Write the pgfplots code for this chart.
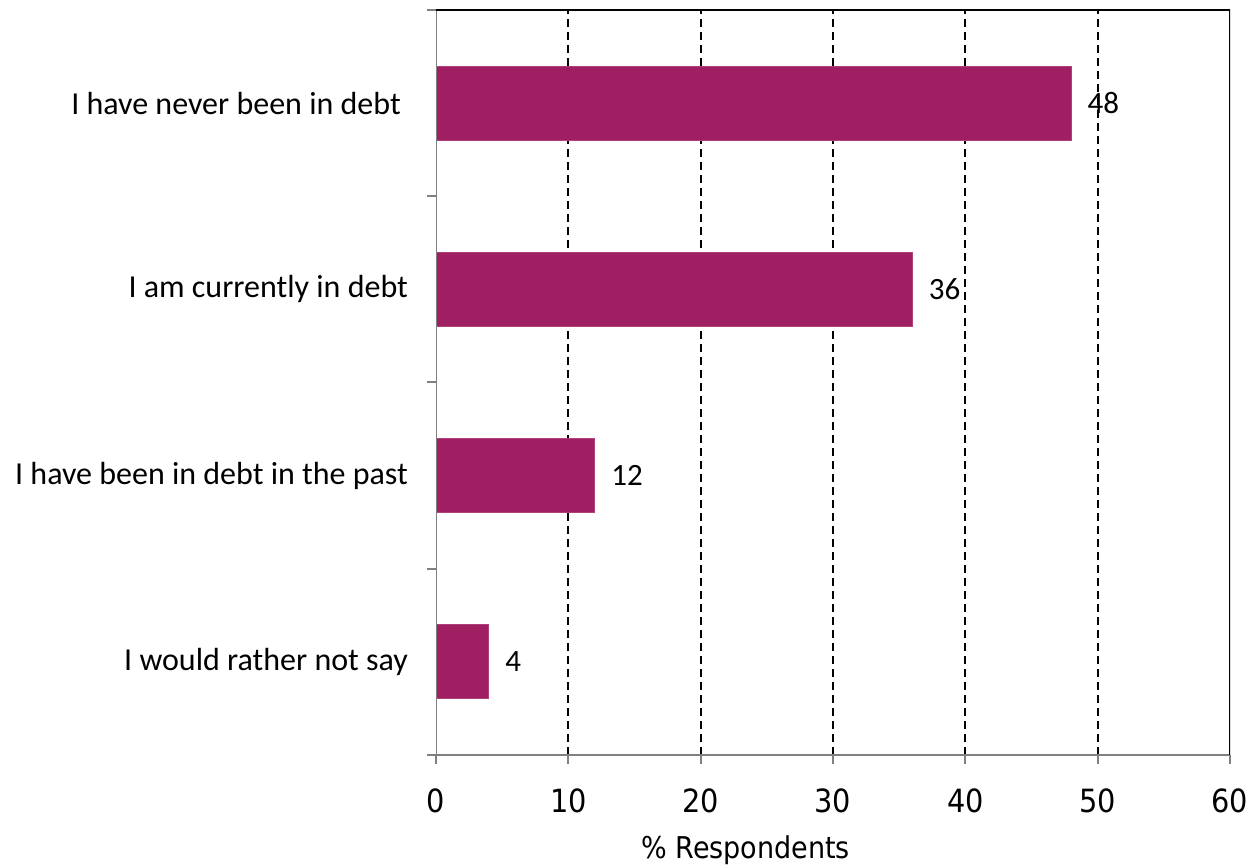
\documentclass[border=0pt]{standalone}
\usepackage{pgfplots}
\pgfplotsset{compat=1.18}
\usepackage{fontspec}
\setmainfont{Carlito}
\newfontfamily\tickfont{DejaVu Sans Condensed}
\definecolor{barc}{RGB}{160,31,98}
\definecolor{axgray}{RGB}{128,128,128}
\begin{document}
\begin{tikzpicture}
\begin{axis}[
  scale only axis, width=397pt, height=372.5pt,
  xbar, bar width=37pt,
  xmin=0, xmax=60, ymin=-0.5, ymax=3.5,
  axis line style={draw=none},
  /pgf/number format/assume math mode=true,
  xtick={0,10,...,60}, xtick pos=bottom,
  tick align=outside, major tick length=4.5pt,
  tick style={draw=axgray, line width=1pt},
  extra x ticks={10,20,30,40,50}, extra x tick labels={},
  extra x tick style={grid=major, tick style={draw=none}},
  grid style={black, line width=0.9pt, dash pattern=on 4pt off 2.5pt},
  xticklabel style={font=\tickfont\fontsize{16}{19}\selectfont, text=black, yshift=-9pt},
  ytick={-0.5,0.5,1.5,2.5,3.5}, yticklabels={}, ytick pos=left,
  extra y ticks={0,1,2,3},
  extra y tick labels={I would rather not say, I have been in debt in the past, I am currently in debt, I have never been in debt\hspace*{3.6pt}},
  extra y tick style={tick style={draw=none}, yticklabel style={font=\fontsize{16}{19}\selectfont, text=black, xshift=-6pt}},
  xlabel={\% Respondents},
  xlabel style={font=\tickfont\fontsize{15}{18}\selectfont, at={(axis description cs:0.39,0)}, anchor=center, yshift=-47.5pt},
  nodes near coords,
  nodes near coords style={font=\fontsize{15.5}{18}\selectfont, text=black, anchor=west, inner sep=0pt, xshift=8pt},
]
\addplot[fill=barc, draw=barc!85!white, line width=0.5pt] coordinates {(4,0) (12,1) (36,2) (48,3)};
\draw[axgray, line width=1pt] (rel axis cs:0,0) -- (rel axis cs:0,1);
\draw[axgray, line width=1pt] (rel axis cs:0,0) -- (rel axis cs:1,0);
\draw[black, line width=1pt] (rel axis cs:0,1) -- (rel axis cs:1,1) -- (rel axis cs:1,0);
\end{axis}
\pgfresetboundingbox
\path[use as bounding box] ([xshift=-218pt,yshift=-55pt]current axis.south west) rectangle ([xshift=9pt,yshift=5pt]current axis.north east);
\end{tikzpicture}
\end{document}
